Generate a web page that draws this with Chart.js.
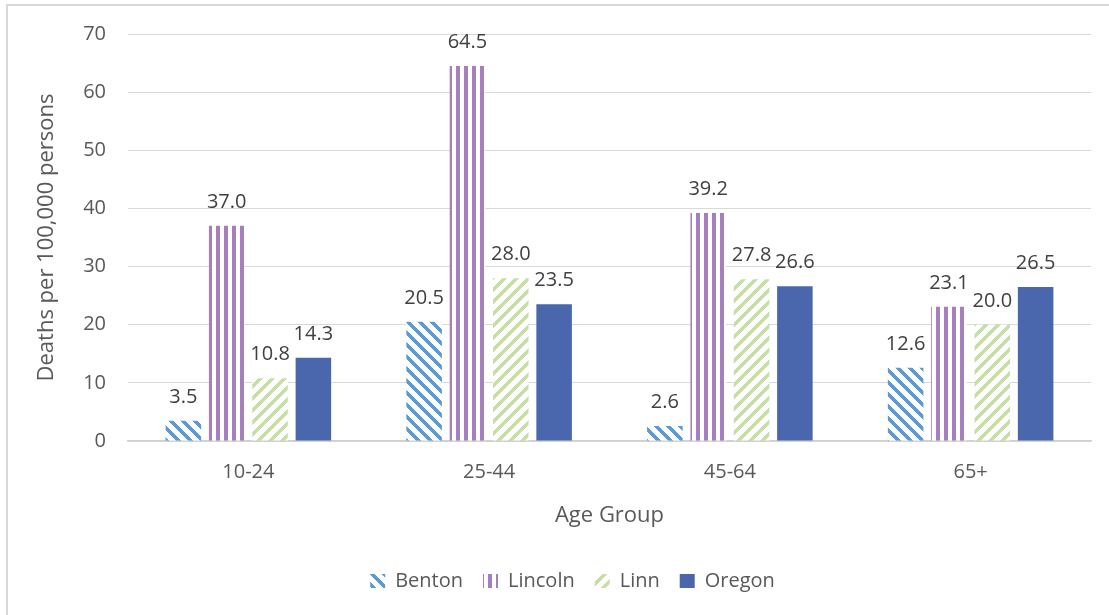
<!DOCTYPE html>
<html>
<head>
<meta charset="utf-8">
<script src="https://cdn.jsdelivr.net/npm/chart.js@4/dist/chart.umd.min.js"></script>
<style>
  body { margin: 0; background: #fff; }
  .frame { position: absolute; left: 6px; top: 4px; width: 1200px; height: 700px; border: 2px solid #d9d9d9; }
  #wrap { position: absolute; left: 0; top: 0; width: 1109px; height: 615px; }
</style>
</head>
<body>
<div class="frame"></div>
<div id="wrap"><canvas id="chart" width="1109" height="615"></canvas></div>
<script>
const ageGroups = ['10-24', '25-44', '45-64', '65+'];
const benton = [3.5, 20.5, 2.6, 12.6];
const lincoln = [37.0, 64.5, 39.2, 23.1];
const linn = [10.8, 28.0, 27.8, 20.0];
const oregon = [14.3, 23.5, 26.6, 26.5];
const seriesNames = ['Benton', 'Lincoln', 'Linn', 'Oregon'];

const textColor = '#595959';
const fontFamily = '"Open Sans", "Liberation Sans", sans-serif';

// small repeating tiles, like the Excel fill patterns
function makePattern(color, size, test) {
    const c = document.createElement('canvas');
    c.width = size; c.height = size;
    const g = c.getContext('2d');
    g.fillStyle = '#ffffff';
    g.fillRect(0, 0, size, size);
    g.fillStyle = color;
    for (let x = 0; x < size; x++) {
        for (let y = 0; y < size; y++) {
            if (test(x, y)) g.fillRect(x, y, 1, 1);
        }
    }
    return g.createPattern(c, 'repeat');
}

const downDiag = makePattern('#5b9bd5', 12, (x, y) => ((x - y + 24) % 12) < 5);
const vertical = makePattern('#a680be', 8, (x, y) => x % 8 < 4);
const upDiag = makePattern('#c5e0a5', 12, (x, y) => ((x + y) % 12) < 5);

const dataLabels = {
    id: 'dataLabels',
    afterDatasetsDraw(chart) {
        const ctx = chart.ctx;
        ctx.save();
        ctx.font = '20px ' + fontFamily;
        ctx.fillStyle = '#404040';
        ctx.textAlign = 'center';
        ctx.textBaseline = 'alphabetic';
        chart.data.datasets.forEach((ds, i) => {
            chart.getDatasetMeta(i).data.forEach((bar, j) => {
                ctx.fillText(ds.data[j].toFixed(1), bar.x, bar.y - 18);
            });
        });
        ctx.restore();
    }
};

// center the legend on the whole frame, not on the canvas padding box
const legendShift = {
    id: 'legendShift',
    afterLayout(chart) {
        chart.legend.left += 17;
        chart.legend.right += 17;
    }
};

new Chart(document.getElementById('chart').getContext('2d'), {
    type: 'bar',
    data: {
        labels: ageGroups,
        datasets: [
            { label: seriesNames[0], data: benton, backgroundColor: downDiag, borderWidth: 0 },
            { label: seriesNames[1], data: lincoln, backgroundColor: vertical, borderWidth: 0 },
            { label: seriesNames[2], data: linn, backgroundColor: upDiag, borderWidth: 0 },
            { label: seriesNames[3], data: oregon, backgroundColor: '#4a66ac', borderWidth: 0 }
        ]
    },
    options: {
        responsive: false,
        animation: false,
        datasets: {
            bar: { categoryPercentage: 0.72, barPercentage: 0.82 }
        },
        layout: {
            padding: { left: 20, right: 18, top: 34, bottom: 14 }
        },
        plugins: {
            legend: {
                position: 'bottom',
                labels: {
                    color: textColor,
                    boxWidth: 15,
                    boxHeight: 14,
                    padding: 20,
                    font: { family: fontFamily, size: 20 }
                }
            },
            tooltip: { enabled: false }
        },
        scales: {
            x: {
                grid: { display: false, drawTicks: false },
                border: { display: true, color: '#d0d0d0', width: 1.5 },
                ticks: { color: textColor, padding: 19, font: { family: fontFamily, size: 20 } },
                title: {
                    display: true,
                    text: 'Age Group',
                    color: textColor,
                    padding: { top: 4, bottom: 22 },
                    font: { family: fontFamily, size: 22 }
                },
                afterFit(scale) { scale.height = 110; }
            },
            y: {
                min: 0,
                max: 70,
                grid: { color: '#d9d9d9', drawTicks: false },
                border: { display: false },
                ticks: { stepSize: 10, color: textColor, padding: 22, font: { family: fontFamily, size: 20 } },
                title: {
                    display: true,
                    text: 'Deaths per 100,000 persons',
                    color: textColor,
                    padding: { top: 14, bottom: 4 },
                    font: { family: fontFamily, size: 22 }
                },
                afterFit(scale) { scale.width = 108; }
            }
        }
    },
    plugins: [dataLabels, legendShift]
});
</script>
</body>
</html>
